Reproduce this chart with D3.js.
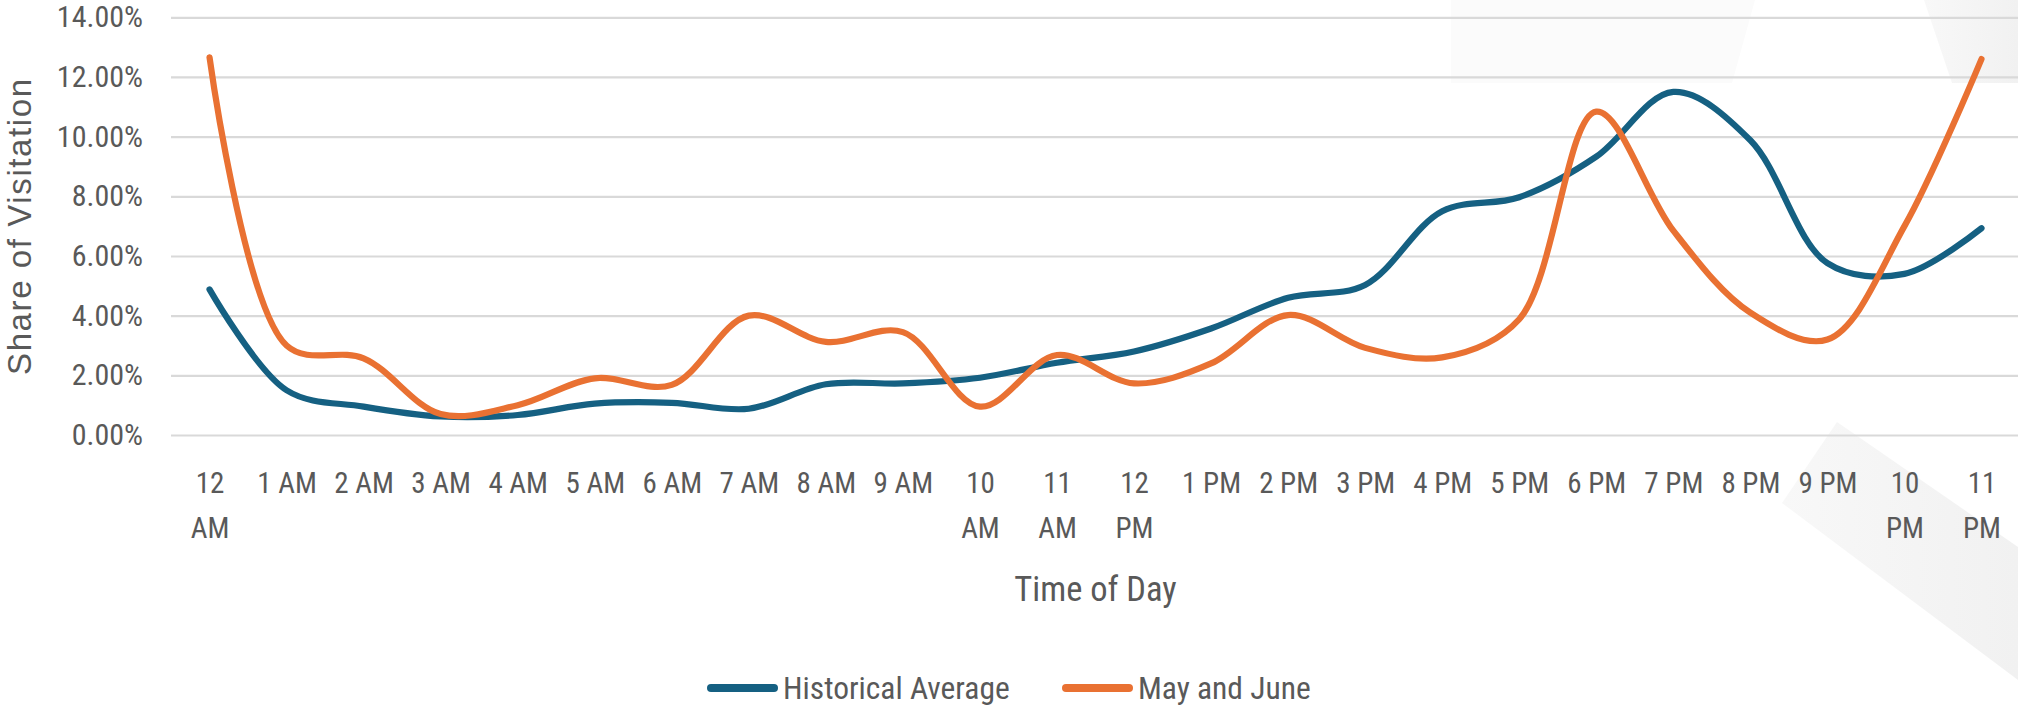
<!DOCTYPE html>
<html>
<head>
<meta charset="utf-8">
<script src="https://cdn.jsdelivr.net/npm/d3@7"></script>
<style>
  html, body { margin: 0; padding: 0; background: #ffffff; }
  svg { display: block; }
  .narrow { font-family: "Liberation Sans Narrow", "Arial Narrow", "Roboto Condensed", "Liberation Sans", sans-serif; }
</style>
</head>
<body>
<svg id="chart" width="2018" height="706"></svg>
<script>
const categories = ["12 AM","1 AM","2 AM","3 AM","4 AM","5 AM","6 AM","7 AM","8 AM","9 AM","10 AM","11 AM",
                    "12 PM","1 PM","2 PM","3 PM","4 PM","5 PM","6 PM","7 PM","8 PM","9 PM","10 PM","11 PM"];
const historicalAverage = [4.88,1.5,0.95,0.62,0.67,1.05,1.08,0.88,1.7,1.73,1.92,2.42,
                           2.8,3.57,4.6,5.03,7.5,7.97,9.33,11.5,9.88,5.76,5.4,6.93];
const mayAndJune = [12.66,3.0,2.57,0.7,1.0,1.9,1.68,4.0,3.12,3.45,0.95,2.68,
                    1.73,2.4,4.02,2.92,2.6,3.88,10.84,6.85,4.1,3.2,7.0,12.6];
const yTicks = [0,2,4,6,8,10,12,14];
const seriesNames = ["Historical Average","May and June"];
const seriesColors = ["#156082","#E97132"];

(function () {
const svg = d3.select("#chart");
const W = 2018;
const mLeft = 171, mRight = 2020, mTop = 17.3, mBottom = 435;

// faint decorative background shapes
const defs = svg.append("defs");
const g1 = defs.append("linearGradient").attr("id","fadeR").attr("x1","0").attr("x2","1").attr("y1","0").attr("y2","0");
g1.append("stop").attr("offset","0").attr("stop-color","#f8f8f8");
g1.append("stop").attr("offset","1").attr("stop-color","#f1f1f1");
const bg = svg.append("g");
bg.append("polygon").attr("points","1451,0 1755,0 1732,83 1451,83").attr("fill","#fbfbfb");
bg.append("polygon").attr("points","1924,0 2018,0 2018,83 1952,83").attr("fill","url(#fadeR)");
bg.append("polygon").attr("points","1837,422 2018,547 2018,680 1782,503").attr("fill","url(#fadeR)");

const x = d3.scalePoint().domain(categories).range([mLeft, mRight]).padding(0.5);
const y = d3.scaleLinear().domain([0, 14]).range([mBottom, mTop]);

// gridlines
const grid = svg.append("g").attr("transform", `translate(${mLeft},0)`)
  .call(d3.axisLeft(y).tickValues(yTicks).tickSize(-(W - mLeft)).tickFormat(""));
grid.select(".domain").remove();
grid.selectAll("line").attr("stroke", "#d9d9d9").attr("stroke-width", 2.2);

// y axis labels
const yAxis = svg.append("g").attr("transform", `translate(${mLeft},0)`)
  .call(d3.axisLeft(y).tickValues(yTicks).tickSize(0).tickPadding(28).tickFormat(d => d.toFixed(2) + "%"));
yAxis.select(".domain").remove();
yAxis.selectAll("text").attr("class","narrow").attr("font-size", 30).attr("fill", "#595959");

// x axis labels
const xAxis = svg.append("g").attr("transform", `translate(0,${mBottom})`)
  .call(d3.axisBottom(x).tickSize(0));
xAxis.select(".domain").remove();
xAxis.selectAll("text").each(function(d) {
  const t = d3.select(this);
  t.attr("class","narrow").attr("font-size", 29).attr("fill", "#595959").attr("y", 58).attr("dy", 0);
  const w = this.getComputedTextLength();
  if (w > 66) {
    const parts = d.split(" ");
    t.text(null);
    t.append("tspan").attr("x", 0).attr("dy", 0).text(parts[0]);
    t.append("tspan").attr("x", 0).attr("dy", 45).text(parts[1]);
  }
});

// axis titles
svg.append("text").attr("class","narrow")
  .attr("x", (mLeft + mRight) / 2).attr("y", 601)
  .attr("text-anchor", "middle").attr("font-size", 34.5).attr("fill", "#595959")
  .text("Time of Day");
svg.append("text")
  .attr("transform", `translate(31,${(mTop + mBottom) / 2}) rotate(-90)`)
  .attr("text-anchor", "middle").attr("font-family", "'Liberation Sans', Arial, sans-serif")
  .attr("font-size", 33).attr("letter-spacing", 1.6).attr("fill", "#595959")
  .text("Share of Visitation");

// lines
const line = d3.line().x((d, i) => x(categories[i])).y(d => y(d)).curve(d3.curveCatmullRom.alpha(0.5));
[historicalAverage, mayAndJune].forEach((s, k) => {
  svg.append("path").datum(s).attr("d", line).attr("fill", "none")
    .attr("stroke", seriesColors[k]).attr("stroke-width", 6.2)
    .attr("stroke-linecap", "round").attr("stroke-linejoin", "round");
});

// legend
const legendItems = [{x: 707, name: seriesNames[0], c: seriesColors[0]}, {x: 1062, name: seriesNames[1], c: seriesColors[1]}];
const lg = svg.append("g");
legendItems.forEach(it => {
  lg.append("line").attr("x1", it.x + 4).attr("x2", it.x + 67).attr("y1", 688).attr("y2", 688)
    .attr("stroke", it.c).attr("stroke-width", 8).attr("stroke-linecap", "round");
  lg.append("text").attr("class","narrow").attr("x", it.x + 76).attr("y", 699)
    .attr("font-size", 31.5).attr("fill", "#595959").text(it.name);
});
})();
</script>
</body>
</html>
